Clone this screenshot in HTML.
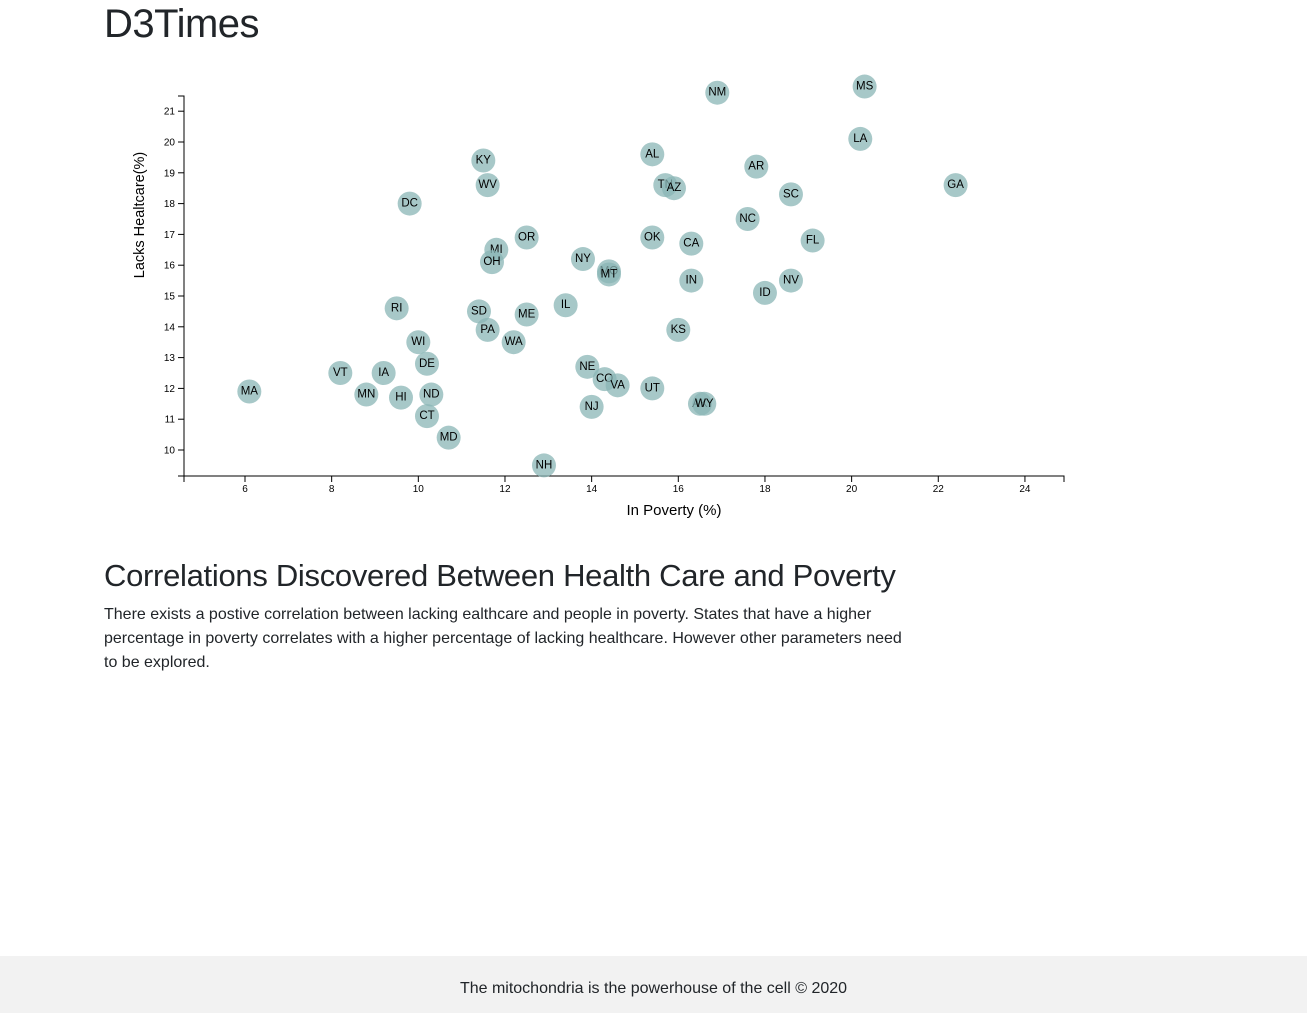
<!DOCTYPE html>
<html><head><meta charset="utf-8"><style>
body{margin:0;font-family:"Liberation Sans",sans-serif;color:#212529;background:#fff;width:1307px;height:1013px;position:relative;overflow:hidden}
h1{position:absolute;left:104px;top:0;margin:0;font-size:40px;font-weight:500;line-height:48px;letter-spacing:-0.5px}
h2{position:absolute;left:104px;top:557px;margin:0;font-size:31px;font-weight:500;line-height:38px;letter-spacing:-0.3px}
p{position:absolute;left:104px;top:603px;margin:0;width:805px;font-size:16px;line-height:24px}
footer{position:absolute;left:0;top:956px;width:1307px;height:57px;background:#f2f2f2;text-align:center;line-height:66px;font-size:16px}
svg{position:absolute;left:0;top:0}
</style></head><body>
<h1>D3Times</h1>
<svg id="chart" width="1307" height="540"></svg>
<h2>Correlations Discovered Between Health Care and Poverty</h2>
<p>There exists a postive correlation between lacking ealthcare and people in poverty. States that have a higher percentage in poverty correlates with a higher percentage of lacking healthcare. However other parameters need to be explored.</p>
<footer>The mitochondria is the powerhouse of the cell © 2020</footer>
<script>
const states=["MA","NM","MS","LA","KY","AL","AR","TN","AZ","WV","GA","SC","DC","NC","OR","OK","CA","FL","MI","OH","NY","MO","MT","IN","NV","ID","IL","RI","SD","ME","PA","KS","WA","WI","DE","NE","VT","IA","CO","VA","UT","MN","ND","HI","AK","WY","NJ","CT","MD","NH"];
const poverty=[6.1,16.9,20.3,20.2,11.5,15.4,17.8,15.7,15.9,11.6,22.4,18.6,9.8,17.6,12.5,15.4,16.3,19.1,11.8,11.7,13.8,14.4,14.4,16.3,18.6,18.0,13.4,9.5,11.4,12.5,11.6,16.0,12.2,10.0,10.2,13.9,8.2,9.2,14.3,14.6,15.4,8.8,10.3,9.6,16.5,16.6,14.0,10.2,10.7,12.9];
const healthcare=[11.9,21.6,21.8,20.1,19.4,19.6,19.2,18.6,18.5,18.6,18.6,18.3,18.0,17.5,16.9,16.9,16.7,16.8,16.5,16.1,16.2,15.8,15.7,15.5,15.5,15.1,14.7,14.6,14.5,14.4,13.9,13.9,13.5,13.5,12.8,12.7,12.5,12.5,12.3,12.1,12.0,11.8,11.8,11.7,11.5,11.5,11.4,11.1,10.4,9.5];
const xTicks=[6,8,10,12,14,16,18,20,22,24];
const yTicks=[10,11,12,13,14,15,16,17,18,19,20,21];
const NS="http://www.w3.org/2000/svg";
const svg=document.getElementById("chart");
const x=v=>245+(v-6)*43.33, y=v=>450-(v-10)*30.8;
function mk(t,a,p){const e=document.createElementNS(NS,t);for(const k in a)e.setAttribute(k,a[k]);(p||svg).appendChild(e);return e;}
let e;
e=mk("path",{d:"M184,482V476H1064V482",fill:"none",stroke:"#000"});


e=mk("path",{d:"M178,96H184V476H178",fill:"none",stroke:"#000"});


xTicks.forEach(v=>{mk("line",{x1:x(v),x2:x(v),y1:476,y2:482,stroke:"#000"});
 e=mk("text",{x:x(v),y:492,"text-anchor":"middle","font-size":"10"});e.textContent=v;
 
 });
yTicks.forEach(v=>{mk("line",{x1:178,x2:184,y1:y(v),y2:y(v),stroke:"#000"});
 e=mk("text",{x:175,y:y(v)+3.5,"text-anchor":"end","font-size":"10"});e.textContent=v;
 
 });
states.forEach((s,i)=>{
 e=mk("circle",{cx:x(poverty[i]),cy:y(healthcare[i]),r:12,fill:"#89b6b6","fill-opacity":"0.75"});
 
 
 e=mk("text",{x:x(poverty[i]),y:y(healthcare[i])+3,"text-anchor":"middle","font-size":"11.5",fill:"#000"});e.textContent=s;
 
 
});
e=mk("text",{x:674,y:515,"text-anchor":"middle","font-size":"15"});e.textContent="In Poverty (%)";


e=mk("text",{x:0,y:0,transform:"translate(144,215) rotate(-90)","text-anchor":"middle","font-size":"14.5"});e.textContent="Lacks Healtcare(%)";


</script>
</body></html>
